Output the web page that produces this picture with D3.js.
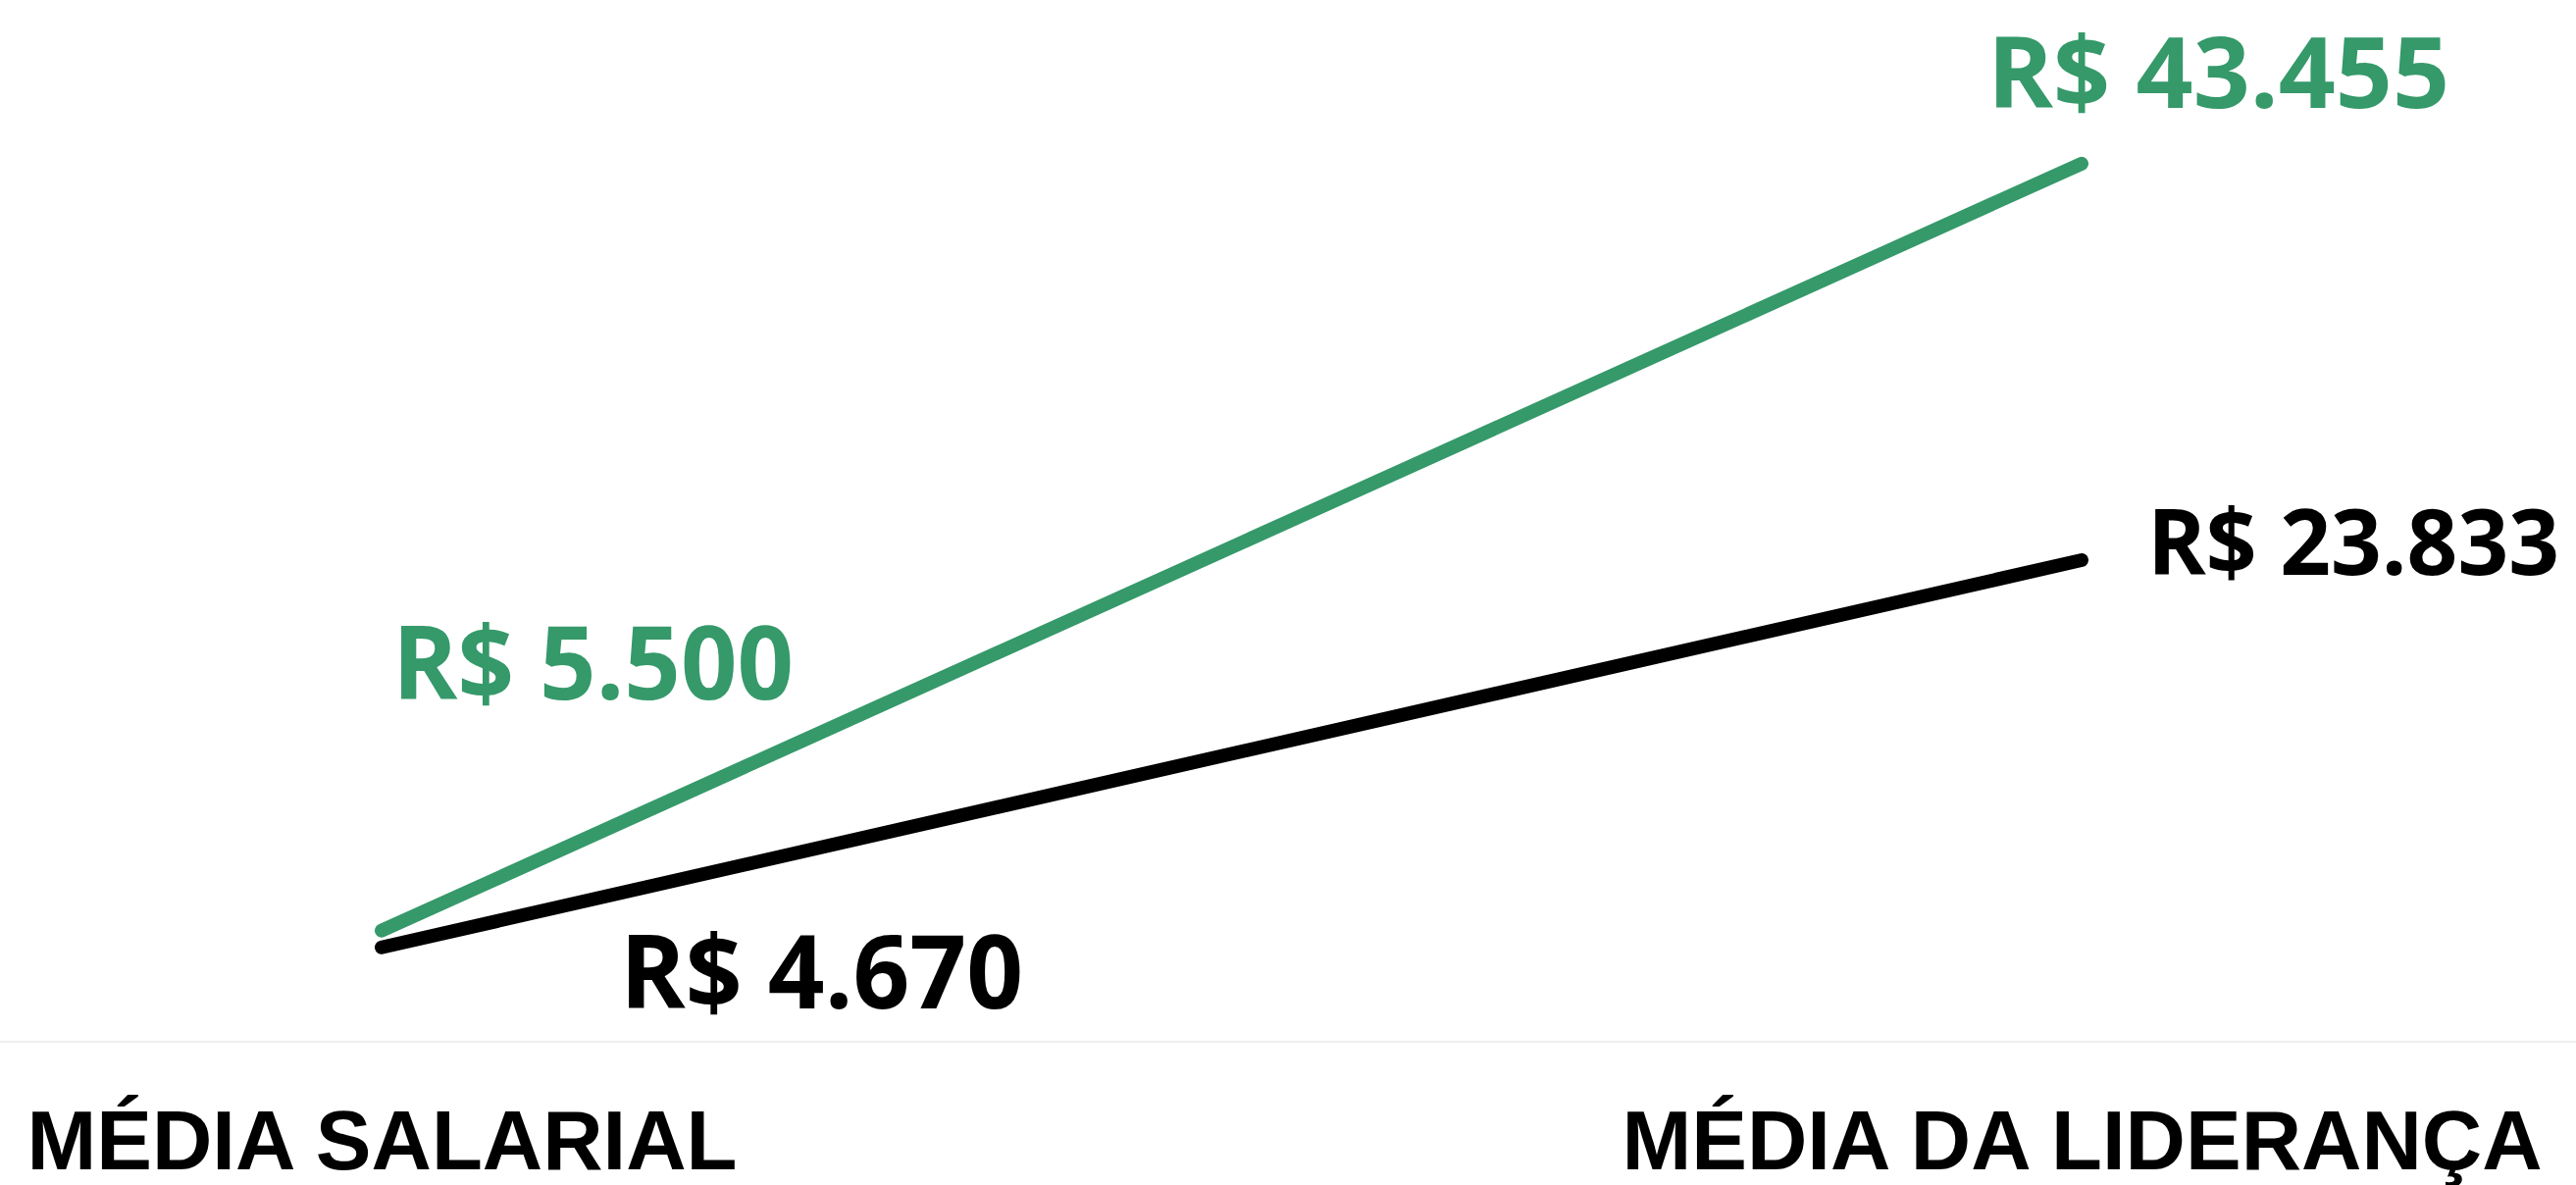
<!DOCTYPE html>
<html>
<head>
<meta charset="utf-8">
<script src="https://cdn.jsdelivr.net/npm/d3@7"></script>
<style>
  html, body { margin: 0; padding: 0; background: #ffffff; }
  svg { display: block; }
</style>
</head>
<body>
<svg id="chart" width="2626" height="1208"></svg>
<script>
// Categories on the horizontal axis
const categories = ["MÉDIA SALARIAL", "MÉDIA DA LIDERANÇA"];

// Series values (R$)
const greenSeries = [5500, 43455];
const blackSeries = [4670, 23833];

// Series drawing order and colours
const seriesKeys = ["verde", "preto"];
const seriesValues = { verde: greenSeries, preto: blackSeries };
const seriesColors = { verde: "#35996a", preto: "#000000" };

// Data-label placement (offset from the point, font size, fitted width)
const labelStyle = {
  verde: [
    { dx: 11,  dy: -236, size: 104, width: 409 },
    { dx: -96, dy: -57,  size: 101, width: 471 }
  ],
  preto: [
    { dx: 243, dy: 62, size: 104, width: 411 },
    { dx: 67,  dy: 15, size: 93,  width: 420 }
  ]
};

const W = 2626, H = 1208;
const svg = d3.select("#chart");

const x = d3.scalePoint().domain(categories).range([389, 2122]);
const y = d3.scaleLinear().domain([0, 50000]).range([1062, 32]);

const brl = d3.formatLocale({
  decimal: ",", thousands: ".", grouping: [3], currency: ["R$ ", ""]
}).format("$,.0f");

// Baseline rule across the whole width
svg.append("line")
  .attr("x1", 0).attr("x2", W)
  .attr("y1", y(0)).attr("y2", y(0))
  .attr("stroke", "#efefef")
  .attr("stroke-width", 2);

// Category labels
const axis = svg.append("g")
  .attr("transform", `translate(0,${y(0)})`)
  .call(d3.axisBottom(x).tickSize(0));
axis.select(".domain").remove();
axis.selectAll("text")
  .attr("y", 130)
  .attr("dy", null)
  .attr("fill", "#000")
  .style("font-family", "'Liberation Sans', Arial, sans-serif")
  .style("font-weight", "700")
  .style("font-size", "85px");

// Lines
const line = d3.line()
  .x((d, i) => x(categories[i]))
  .y(d => y(d));

seriesKeys.forEach(key => {
  svg.append("path")
    .datum(seriesValues[key])
    .attr("d", line)
    .attr("fill", "none")
    .attr("stroke", seriesColors[key])
    .attr("stroke-width", 14)
    .attr("stroke-linecap", "round")
    .attr("stroke-linejoin", "round");
});

// Data labels
seriesKeys.forEach(key => {
  svg.append("g")
    .selectAll("text")
    .data(seriesValues[key])
    .join("text")
    .attr("x", (d, i) => x(categories[i]) + labelStyle[key][i].dx)
    .attr("y", (d, i) => y(d) + labelStyle[key][i].dy)
    .attr("textLength", (d, i) => labelStyle[key][i].width)
    .attr("lengthAdjust", "spacingAndGlyphs")
    .attr("fill", seriesColors[key])
    .style("font-family", "'Open Sans', 'Noto Sans', sans-serif")
    .style("font-weight", "700")
    .style("font-size", (d, i) => labelStyle[key][i].size + "px")
    .text(d => brl(d));
});
</script>
</body>
</html>
